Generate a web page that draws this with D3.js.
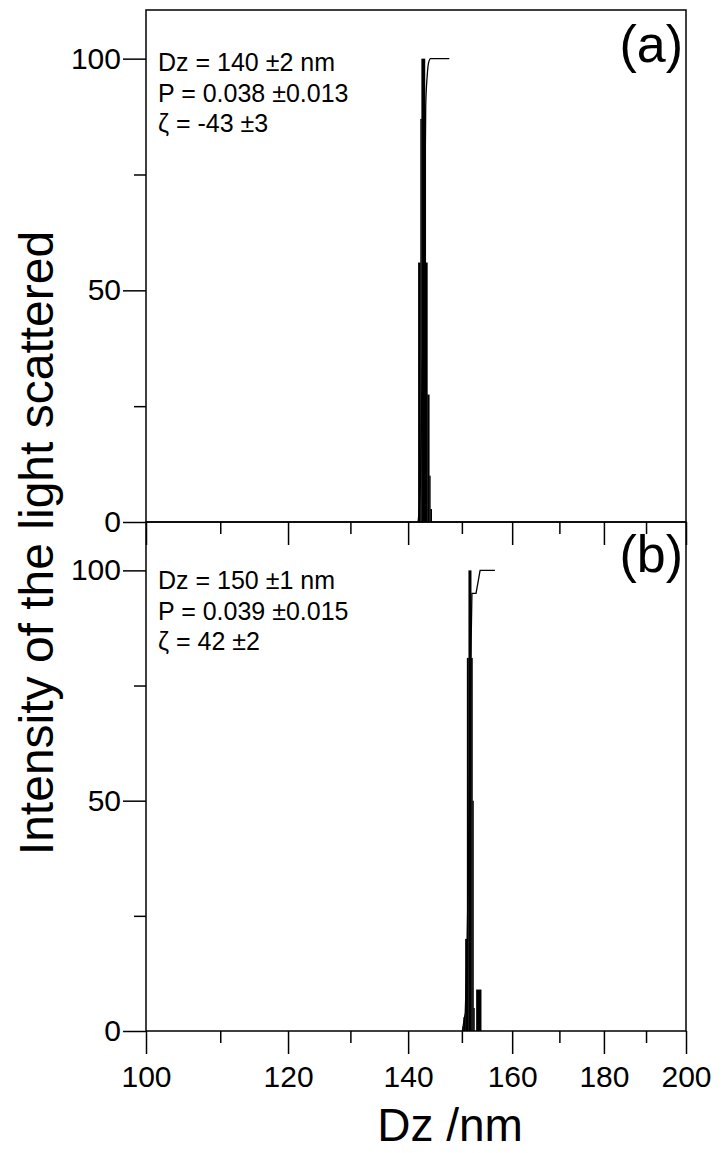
<!DOCTYPE html>
<html><head><meta charset="utf-8">
<script src="https://cdn.jsdelivr.net/npm/d3@7"></script>
<style>
body{margin:0;background:#fff}
svg{display:block}
text{font-family:"Liberation Sans",Arial,sans-serif;fill:#000}
</style>
</head><body>
<svg id="c" width="722" height="1153"></svg>
<script>
// ---------- data ----------
const xMajorTicks = [100, 120, 140, 160, 180, 200];
const xMinorTicks = [110, 130, 150, 170, 190];
const yMajorTicks = [0, 50, 100];
const yMinorTicks = [25, 75];
const panelLabels = ["(a)", "(b)"];
const annotA = ["Dz = 140 \u00B12 nm", "P = 0.038 \u00B10.013", "\u03B6 = -43 \u00B13"];
const annotB = ["Dz = 150 \u00B11 nm", "P = 0.039 \u00B10.015", "\u03B6 = 42 \u00B12"];
// panel (a): intensity distribution (bin edges in nm, intensity per bin)
const binEdgesA = [141.8, 142.2, 142.4, 143.05, 143.2, 143.5, 143.85, 144.05, 144.3];
const intensityA = [56, 87, 100, 87, 56, 27.5, 10, 2.8];
// panel (a): cumulative curve
const cumSizeA = [141.8, 142.2, 142.45, 143.05, 143.2, 143.45, 143.7, 144.1, 147.6];
const cumA = [0, 8, 25, 70, 90, 96, 99, 100, 100];
// panel (b)
const binEdgesB = [150.1, 150.3, 150.63, 150.96, 151.27, 151.8, 152.05, 152.25, 152.44, 152.77, 153.76];
const intensityB = [1, 3, 20, 81, 100, 81, 50, 5, 0, 9];
const cumSizeB = [150.1, 150.65, 150.95, 151.25, 151.8, 151.95, 152.75, 153.55, 156.5];
const cumB = [0, 4, 15, 35, 85, 95, 95, 100, 100];
const xTitle = "Dz /nm";
const yTitle = "Intensity of the light scattered";

// ---------- layout ----------
const svg = d3.select("#c");
const L = 146, R = 686;
const x = d3.scaleLog().domain([100, 200]).range([L, R]);
const majorLen = 23, minorLen = 12;

const panels = [
  {top: 10, bottom: 522, edges: binEdgesA, h: intensityA, cx: cumSizeA, cy: cumA, label: panelLabels[0], annot: annotA, annotY: 71, labelY: 62, xLabels: false},
  {top: 522, bottom: 1031, edges: binEdgesB, h: intensityB, cx: cumSizeB, cy: cumB, label: panelLabels[1], annot: annotB, annotY: 589, labelY: 572, xLabels: true}
];

panels.forEach(p => {
  const y = d3.scaleLinear().domain([0, 110.5]).range([p.bottom, p.top]);
  const g = svg.append("g");

  // bars
  const bars = p.h.map((v, i) => ({x0: p.edges[i], x1: p.edges[i + 1], v})).filter(d => d.v > 0);
  g.selectAll("rect.bar").data(bars).enter().append("rect")
    .attr("x", d => x(d.x0))
    .attr("width", d => x(d.x1) - x(d.x0) + 0.3)
    .attr("y", d => y(d.v))
    .attr("height", d => y(0) - y(d.v))
    .attr("fill", "#000");

  // cumulative line
  const pts = p.cx.map((s, i) => [s, p.cy[i]]);
  g.append("path")
    .attr("d", d3.line().x(d => x(d[0])).y(d => y(d[1]))
      .curve(p.xLabels ? d3.curveLinear : d3.curveMonotoneX)(pts))
    .attr("fill", "none").attr("stroke", "#000").attr("stroke-width", 1.3);

  // frame
  g.append("rect").attr("x", L).attr("y", p.top).attr("width", R - L).attr("height", p.bottom - p.top)
    .attr("fill", "none").attr("stroke", "#000").attr("stroke-width", 1.5);

  // y axis
  const yMaj = d3.axisLeft(y).tickValues(yMajorTicks).tickSize(majorLen).tickPadding(2).tickFormat(d3.format("d"));
  const ya = g.append("g").attr("transform", `translate(${L},0)`).call(yMaj);
  ya.select(".domain").remove();
  ya.selectAll("line").attr("stroke-width", 1.5);
  ya.selectAll("text").style("font-size", "30px").attr("font-family", null);
  const yMin = d3.axisLeft(y).tickValues(yMinorTicks).tickSize(minorLen).tickFormat("");
  const ym = g.append("g").attr("transform", `translate(${L},0)`).call(yMin);
  ym.select(".domain").remove();
  ym.selectAll("line").attr("stroke-width", 1.5);

  // x axis
  const xMaj = d3.axisBottom(x).tickValues(xMajorTicks).tickSize(majorLen).tickPadding(12)
    .tickFormat(p.xLabels ? d3.format("d") : "");
  const xa = g.append("g").attr("transform", `translate(0,${p.bottom})`).call(xMaj);
  xa.select(".domain").remove();
  xa.selectAll("line").attr("stroke-width", 1.5);
  xa.selectAll("text").style("font-size", "30px").attr("font-family", null);
  const xMin = d3.axisBottom(x).tickValues(xMinorTicks).tickSize(minorLen).tickFormat("");
  const xm = g.append("g").attr("transform", `translate(0,${p.bottom})`).call(xMin);
  xm.select(".domain").remove();
  xm.selectAll("line").attr("stroke-width", 1.5);

  // annotations
  g.selectAll("text.ann").data(p.annot).enter().append("text")
    .attr("class", "ann")
    .attr("x", 158).attr("y", (d, i) => p.annotY + i * 30.5)
    .style("font-size", "25px").text(d => d);

  // panel label
  g.append("text").attr("x", 683).attr("y", p.labelY).attr("text-anchor", "end")
    .style("font-size", "52px").text(p.label);
});

// axis titles
svg.append("text").attr("x", 450).attr("y", 1141).attr("text-anchor", "middle")
  .style("font-size", "46px").text(xTitle);
svg.append("text").attr("transform", "translate(53,543) rotate(-90)").attr("text-anchor", "middle")
  .style("font-size", "48px").text(yTitle);
</script>
</body></html>
